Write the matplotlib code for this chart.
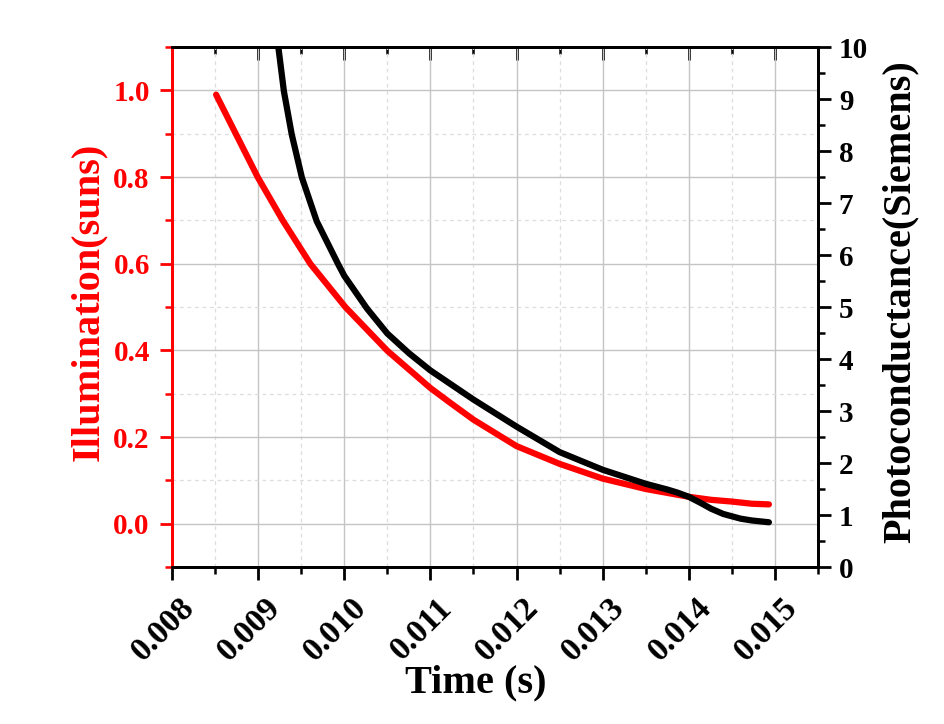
# Load modules.
import matplotlib
matplotlib.use('Agg')
from matplotlib import pyplot as plt  # For plotting functions.
from matplotlib.ticker import MultipleLocator, FormatStrFormatter
from matplotlib.transforms import ScaledTranslation

#---- Data ----#
# Illumination curve (left axis).
illum_t=[0.008512,0.00874,0.008994,0.009285,0.009605,0.010012,0.0105,
0.011,0.01123,0.0115,0.012,0.0125,0.013,0.0135,0.014,0.01426,0.0145,
0.01473,0.01493]
illum_v=[0.99,0.90,0.80,0.70,0.60,0.50,0.399,0.313,0.279,0.240,0.179,0.138,
0.104,0.080,0.062,0.055,0.051,0.046,0.0445]
# Photoconductance curve (right axis).
cond_t=[0.0092,0.009236,0.009299,0.00939,0.009508,0.00968,0.00993,0.010,
0.010264,0.0105,0.010752,0.011,0.0115,0.012,0.0125,0.013,0.0135,0.01375,
0.01387,0.014,0.01414,0.01426,0.0144,0.0146,0.01473,0.01493]
cond_g=[10.56,9.98,9.15,8.32,7.49,6.65,5.82,5.60,4.97,4.49,4.11,3.78,3.22,
2.70,2.21,1.87,1.60,1.49,1.43,1.35,1.23,1.12,1.02,0.93,0.895,0.86]

#---- Plot settings ----#
plt.rcParams['font.family']=['Liberation Serif','DejaVu Serif']
plt.rcParams['font.weight']='bold'
fontsize_yticks=21
fontsize_xticks=24
fontsize_label=29
red='#ff0000'

# Set figure and axes.
fig=plt.figure(figsize=(9.45,7.24),dpi=100)
ax=fig.add_axes([172/945,1-567/724,646/945,520/724])
ax2=ax.twinx()

# Plot lines.
ax.plot(illum_t,illum_v,color=red,linewidth=4.5,solid_capstyle='round',
solid_joinstyle='round',zorder=3)
ax2.plot(cond_t,cond_g,color='black',linewidth=4.5,solid_capstyle='round',
solid_joinstyle='round',zorder=3)

# Set limits.
ax.set_xlim(0.008,0.0155)
ax.set_ylim(-0.1,1.1)
ax2.set_ylim(0,10)

# Set tick locations.
ax.xaxis.set_major_locator(MultipleLocator(0.001))
ax.xaxis.set_minor_locator(MultipleLocator(0.0005))
ax.xaxis.set_major_formatter(FormatStrFormatter('%.3f'))
ax.yaxis.set_major_locator(MultipleLocator(0.2))
ax.yaxis.set_minor_locator(MultipleLocator(0.1))
ax.yaxis.set_major_formatter(FormatStrFormatter('%.1f'))
ax2.yaxis.set_major_locator(MultipleLocator(1))
ax2.yaxis.set_minor_locator(MultipleLocator(0.5))

# Add grid lines.
ax.set_axisbelow(True)
ax.grid(which='major',color='#c4c4c4',linewidth=1.0,linestyle='-')
ax.grid(which='minor',color='#dddddd',linewidth=0.9,linestyle=(0,(3,3)))

# Tick styling.
ax.tick_params(axis='x',which='major',direction='out',length=9,width=2,
labelsize=fontsize_xticks,pad=9,colors='black',labelrotation=45)
ax.tick_params(axis='x',which='minor',direction='out',length=5,width=1.8)
ax.tick_params(axis='y',which='major',direction='out',length=9,width=2,
labelsize=fontsize_yticks,colors=red,pad=7)
ax.tick_params(axis='y',which='minor',direction='out',length=5,width=1.8,
colors=red)
ax2.tick_params(axis='y',which='major',direction='out',length=9,width=2,
labelsize=fontsize_yticks,colors='black',pad=6)
ax2.tick_params(axis='y',which='minor',direction='out',length=5,width=1.8)

# Top ticks pointing inward.
secx=ax.secondary_xaxis('top')
secx.xaxis.set_major_locator(MultipleLocator(0.001))
secx.xaxis.set_minor_locator(MultipleLocator(0.0005))
secx.tick_params(which='major',direction='in',length=9,width=2,
labeltop=False)
secx.tick_params(which='minor',direction='in',length=5,width=1.8)
secx.spines['top'].set_linewidth(2)

# Spines.
for a in [ax,ax2]:
  for s in a.spines.values():
    s.set_linewidth(2)
ax.spines['left'].set_color(red)
ax2.spines['left'].set_color(red)

# Shift rotated x tick labels slightly left.
offset=ScaledTranslation(-9/100,0,fig.dpi_scale_trans)
for lab in ax.get_xticklabels():
  lab.set_fontweight('bold')
  lab.set_transform(lab.get_transform()+offset)

# Axis labels.
ax.set_xlabel('Time (s)',fontsize=fontsize_label,fontweight='bold')
ax.xaxis.set_label_coords(0.47,-0.188)
ax.set_ylabel('Illumination(suns)',fontsize=fontsize_label,
fontweight='bold',color=red)
ax.yaxis.set_label_coords(-0.101,0.51)
ax2.set_ylabel('Photoconductance(Siemens)',fontsize=fontsize_label,
fontweight='bold',color='black')
ax2.yaxis.set_label_coords(1.098,0.51)

# Save plot.
fig.savefig('out.png',dpi=100)
plt.close(fig=fig)
